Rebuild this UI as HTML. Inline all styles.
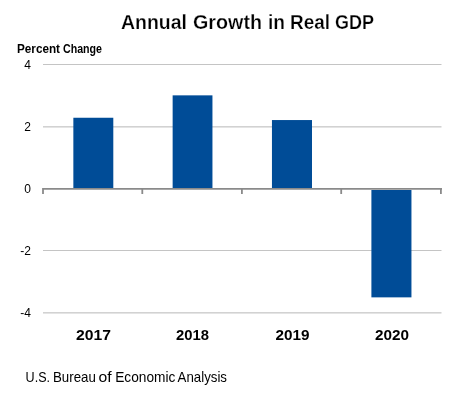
<!DOCTYPE html>
<html><head><meta charset="utf-8">
<style>
html,body{margin:0;padding:0;background:#fff;width:454px;height:395px;overflow:hidden}
svg{display:block;will-change:transform}
text{font-family:"Liberation Sans",sans-serif}
</style></head><body>
<svg width="454" height="395" viewBox="0 0 454 395">
<rect width="454" height="395" fill="#fff"/>
<rect x="43" y="64" width="398.5" height="1" fill="#c4c4c4"/><rect x="43" y="126" width="398.5" height="1" fill="#d2d2d2"/><rect x="43" y="127" width="398.5" height="1" fill="#e4e4e4"/><rect x="43" y="250" width="398.5" height="1" fill="#c4c4c4"/><rect x="43" y="312" width="398.5" height="1" fill="#d2d2d2"/><rect x="43" y="313" width="398.5" height="1" fill="#e4e4e4"/>
<rect x="73.35" y="117.75" width="39.95" height="70.25" fill="#004C97"/><rect x="172.64" y="95.35" width="39.81" height="92.65" fill="#004C97"/><rect x="271.95" y="120.05" width="40.05" height="67.95" fill="#004C97"/><rect x="371.4" y="188.5" width="40.05" height="108.86" fill="#004C97"/>
<rect x="43" y="188" width="399" height="1" fill="#8a8a8a"/><rect x="43" y="189" width="399" height="1" fill="#a8a8a8"/><rect x="42.1" y="188" width="1.8" height="6" fill="#8a8a8a"/><rect x="141.4" y="188" width="1.8" height="6" fill="#8a8a8a"/><rect x="241.0" y="188" width="1.8" height="6" fill="#8a8a8a"/><rect x="340.3" y="188" width="1.8" height="6" fill="#8a8a8a"/><rect x="440.0" y="188" width="1.8" height="6" fill="#8a8a8a"/>
<text id="t1" x="121.00" y="29.00" font-size="19.5" font-weight="bold" fill="#000" stroke="#fff" stroke-width="0.25" textLength="66.00" lengthAdjust="spacingAndGlyphs">Annual</text>
<text id="t2" x="193.00" y="29.00" font-size="19.5" font-weight="bold" fill="#000" stroke="#fff" stroke-width="0.25" textLength="69.00" lengthAdjust="spacingAndGlyphs">Growth</text>
<text id="t3" x="268.00" y="29.00" font-size="19.5" font-weight="bold" fill="#000" stroke="#fff" stroke-width="0.25" textLength="17.00" lengthAdjust="spacingAndGlyphs">in</text>
<text id="t4" x="290.00" y="29.00" font-size="19.5" font-weight="bold" fill="#000" stroke="#fff" stroke-width="0.25" textLength="40.00" lengthAdjust="spacingAndGlyphs">Real</text>
<text id="t5" x="335.00" y="29.00" font-size="19.5" font-weight="bold" fill="#000" stroke="#fff" stroke-width="0.25" textLength="39.00" lengthAdjust="spacingAndGlyphs">GDP</text>
<text id="p1" x="17.00" y="53.00" font-size="12" font-weight="bold" fill="#000" textLength="43.00" lengthAdjust="spacingAndGlyphs">Percent</text>
<text id="p2" x="63.00" y="53.00" font-size="12" font-weight="bold" fill="#000" textLength="39.00" lengthAdjust="spacingAndGlyphs">Change</text>
<text id="y1" x="31.00" y="68.50" font-size="12" font-weight="normal" fill="#000" text-anchor="end">4</text>
<text id="y2" x="31.00" y="130.50" font-size="12" font-weight="normal" fill="#000" text-anchor="end">2</text>
<text id="y3" x="31.00" y="192.50" font-size="12" font-weight="normal" fill="#000" text-anchor="end">0</text>
<text id="y4" x="31.00" y="254.50" font-size="12" font-weight="normal" fill="#000" text-anchor="end">-2</text>
<text id="y5" x="31.00" y="316.50" font-size="12" font-weight="normal" fill="#000" text-anchor="end">-4</text>
<text id="c1" x="76.00" y="340.20" font-size="15.5" font-weight="bold" fill="#000" textLength="35.00" lengthAdjust="spacingAndGlyphs">2017</text>
<text id="c2" x="176.00" y="340.20" font-size="15.5" font-weight="bold" fill="#000" textLength="33.00" lengthAdjust="spacingAndGlyphs">2018</text>
<text id="c3" x="275.50" y="340.20" font-size="15.5" font-weight="bold" fill="#000" textLength="34.00" lengthAdjust="spacingAndGlyphs">2019</text>
<text id="c4" x="375.00" y="340.20" font-size="15.5" font-weight="bold" fill="#000" textLength="34.00" lengthAdjust="spacingAndGlyphs">2020</text>
<text id="s1" x="25.60" y="382.00" font-size="14.5" font-weight="normal" fill="#000" textLength="24.40" lengthAdjust="spacingAndGlyphs">U.S.</text>
<text id="s2" x="53.00" y="382.00" font-size="14.5" font-weight="normal" fill="#000" textLength="42.80" lengthAdjust="spacingAndGlyphs">Bureau</text>
<text id="s3" x="98.50" y="382.00" font-size="14.5" font-weight="normal" fill="#000" textLength="13.10" lengthAdjust="spacingAndGlyphs">of</text>
<text id="s4" x="115.20" y="382.00" font-size="14.5" font-weight="normal" fill="#000" textLength="60.10" lengthAdjust="spacingAndGlyphs">Economic</text>
<text id="s5" x="177.60" y="382.00" font-size="14.5" font-weight="normal" fill="#000" textLength="49.40" lengthAdjust="spacingAndGlyphs">Analysis</text>
</svg>
</body></html>
